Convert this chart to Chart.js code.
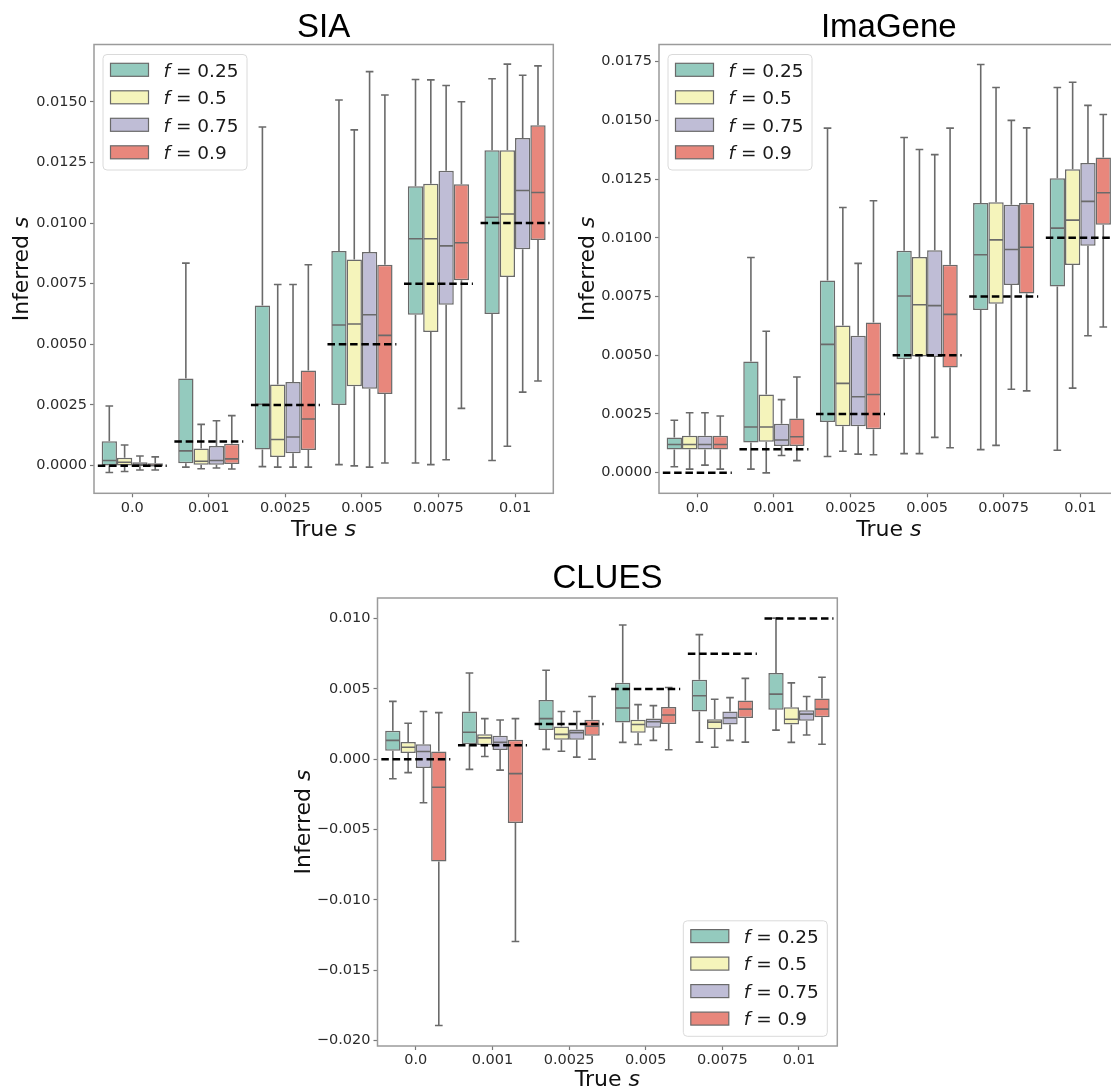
<!DOCTYPE html>
<html>
<head>
<meta charset="utf-8">
<title>Inferred s vs True s</title>
<script src="https://cdn.jsdelivr.net/npm/chart.js@4.4.1/dist/chart.umd.min.js"></script>
<style>
  html, body { margin: 0; padding: 0; background: #fff; width: 1111px; height: 1089px; overflow: hidden; }
  canvas { position: absolute; }
</style>
</head>
<body>
<canvas id="siaChart" width="580" height="540" style="left:0px;top:0px"></canvas>
<canvas id="imageneChart" width="580" height="540" style="left:560px;top:0px"></canvas>
<canvas id="cluesChart" width="580" height="544" style="left:280px;top:545px"></canvas>
<script>
const categories = ['0.0', '0.001', '0.0025', '0.005', '0.0075', '0.01'];
const trueS = [0, 0.001, 0.0025, 0.005, 0.0075, 0.01];
const fLevels = ['0.25', '0.5', '0.75', '0.9'];
const boxColors = ['#94cabe', '#f5f4bb', '#bfbdd6', '#e8877c'];

// each row: [low whisker, q1, median, q3, high whisker], one row per True s
const siaF025 = [[-0.00028, 0.00001, 0.00021, 0.00101, 0.00246], [-0.00006, 0.0001, 0.00061, 0.00359, 0.00835], [-0.00004, 0.00067, 0.00253, 0.0066, 0.01396], [0.00004, 0.0025, 0.0058, 0.00885, 0.01507], [0.00011, 0.00622, 0.00935, 0.01152, 0.01592], [0.00021, 0.00625, 0.01024, 0.013, 0.01595]];
const siaF05 = [[-0.00024, 0.00001, 0.00014, 0.00033, 0.00085], [-0.00013, 0.00004, 0.00018, 0.00071, 0.0017], [-0.00006, 0.00036, 0.00108, 0.00335, 0.00747], [-0.00001, 0.00327, 0.00584, 0.0085, 0.01384], [0.00004, 0.00551, 0.00935, 0.01162, 0.0159], [0.0008, 0.00778, 0.01037, 0.013, 0.01655]];
const siaF075 = [[-0.00018, -0.00003, 0.00004, 0.00014, 0.0004], [-0.0001, 0.00004, 0.00021, 0.00081, 0.00185], [-0.00006, 0.00051, 0.00118, 0.00345, 0.00747], [-0.00006, 0.00317, 0.00622, 0.00881, 0.01624], [0.00024, 0.00663, 0.00906, 0.01216, 0.01567], [0.00303, 0.00892, 0.01134, 0.01351, 0.01609]];
const siaF09 = [[-0.00018, -0.00004, 0.00001, 0.0001, 0.00036], [-0.00014, 0.00007, 0.00028, 0.0009, 0.00206], [-0.00006, 0.00064, 0.00192, 0.00392, 0.00828], [0.00011, 0.00295, 0.00537, 0.00828, 0.01528], [0.00236, 0.00764, 0.00919, 0.0116, 0.015], [0.00349, 0.0093, 0.01126, 0.01403, 0.01648]];

const imageneF025 = [[0.00025, 0.00098, 0.0012, 0.0015, 0.00223], [0.00015, 0.00128, 0.00194, 0.00473, 0.00916], [0.00069, 0.00216, 0.00546, 0.00818, 0.01467], [0.00081, 0.00483, 0.00752, 0.00945, 0.01427], [0.00098, 0.00693, 0.00928, 0.01148, 0.01738], [0.00095, 0.00793, 0.01041, 0.01254, 0.0164]];
const imageneF05 = [[0.00015, 0.00098, 0.0012, 0.00157, 0.00255], [-0.00001, 0.00131, 0.00194, 0.00333, 0.00602], [0.00091, 0.00198, 0.0038, 0.00627, 0.01129], [0.00081, 0.00495, 0.00715, 0.00918, 0.01376], [0.00116, 0.00719, 0.00991, 0.01151, 0.0164], [0.0036, 0.00884, 0.01075, 0.01292, 0.01662]];
const imageneF075 = [[0.00032, 0.00098, 0.0012, 0.00157, 0.00255], [0.00073, 0.00113, 0.00139, 0.00208, 0.00311], [0.00079, 0.00198, 0.00323, 0.00583, 0.00891], [0.0015, 0.00492, 0.00711, 0.00947, 0.01354], [0.00355, 0.00799, 0.0095, 0.01141, 0.015], [0.00583, 0.00966, 0.01155, 0.01318, 0.01564]];
const imageneF09 = [[0.00015, 0.00098, 0.0012, 0.00157, 0.00241], [0.00051, 0.00113, 0.00153, 0.0023, 0.00407], [0.00076, 0.00185, 0.00333, 0.00639, 0.01158], [0.00106, 0.00448, 0.00674, 0.00885, 0.01467], [0.00348, 0.00763, 0.0096, 0.01148, 0.01468], [0.0062, 0.01056, 0.01192, 0.01342, 0.01525]];

const cluesF025 = [[-0.00139, 0.0006, 0.00134, 0.00202, 0.00411], [-0.00072, 0.00107, 0.00192, 0.00339, 0.00613], [0.0007, 0.00207, 0.00289, 0.00421, 0.00632], [0.0012, 0.00261, 0.00364, 0.00543, 0.00954], [0.00122, 0.00339, 0.00451, 0.00565, 0.00886], [0.00207, 0.00351, 0.00463, 0.00613, 0.01003]];
const cluesF05 = [[-0.00095, 0.00045, 0.00085, 0.00122, 0.00256], [0.0002, 0.00102, 0.00152, 0.00177, 0.00289], [0.00057, 0.00139, 0.00177, 0.00232, 0.00339], [0.00105, 0.00189, 0.00247, 0.00281, 0.00388], [0.00085, 0.00214, 0.00264, 0.00284, 0.00426], [0.0012, 0.00247, 0.00284, 0.00369, 0.00543]];
const cluesF075 = [[-0.00309, -0.00062, 0.00055, 0.00107, 0.00339], [-0.00077, 0.00065, 0.0012, 0.00167, 0.00279], [0.00015, 0.00139, 0.00189, 0.00212, 0.00339], [0.00134, 0.00224, 0.00266, 0.00289, 0.00381], [0.00134, 0.00247, 0.00294, 0.00339, 0.00438], [0.00172, 0.00274, 0.00321, 0.00349, 0.00446]];
const cluesF09 = [[-0.01892, -0.00727, -0.00199, 0.00055, 0.00331], [-0.01295, -0.00453, -0.00102, 0.00139, 0.00289], [0.0, 0.00167, 0.00234, 0.00281, 0.00446], [0.00067, 0.00251, 0.00314, 0.00371, 0.0051], [0.00122, 0.00294, 0.00356, 0.00418, 0.00575], [0.00107, 0.00299, 0.00356, 0.00431, 0.00583]];

const siaYRange = [-0.00114, 0.01736];
const imageneYRange = [-0.00088, 0.01823];
const cluesYRange = [-0.02038, 0.01146];
const siaYTicks = [0, 0.0025, 0.005, 0.0075, 0.01, 0.0125, 0.015];
const imageneYTicks = [0, 0.0025, 0.005, 0.0075, 0.01, 0.0125, 0.015, 0.0175];
const cluesYTicks = [-0.02, -0.015, -0.01, -0.005, 0, 0.005, 0.01];

const EDGE = '#6a6a6a';
const FONT = '"DejaVu Sans"';

function line(ctx, x1, y1, x2, y2) {
    ctx.beginPath();
    ctx.moveTo(x1, y1);
    ctx.lineTo(x2, y2);
    ctx.stroke();
}

// draws "normal" + "italic" text starting at x (left aligned)
function mixedText(ctx, x, y, normal, italic, size) {
    ctx.font = size + 'px ' + FONT;
    ctx.fillText(normal, x, y);
    const w = ctx.measureText(normal).width;
    ctx.font = 'italic ' + size + 'px ' + FONT;
    ctx.fillText(italic, x + w, y);
}

function mixedWidth(ctx, normal, italic, size) {
    ctx.font = size + 'px ' + FONT;
    let w = ctx.measureText(normal).width;
    ctx.font = 'italic ' + size + 'px ' + FONT;
    return w + ctx.measureText(italic).width;
}

function drawLegend(ctx, left, top) {
    const w = 144, h = 115.5;
    ctx.save();
    ctx.fillStyle = 'rgba(255,255,255,0.85)';
    ctx.strokeStyle = '#dadada';
    ctx.lineWidth = 1;
    ctx.beginPath();
    ctx.roundRect(left, top, w, h, 4);
    ctx.fill();
    ctx.stroke();
    fLevels.forEach((lab, k) => {
        const cy = top + 15.3 + 27.5 * k;
        ctx.fillStyle = boxColors[k];
        ctx.fillRect(left + 7.5, cy - 6.5, 38, 13);
        ctx.strokeStyle = EDGE;
        ctx.lineWidth = 1.2;
        ctx.strokeRect(left + 7.5, cy - 6.5, 38, 13);
        ctx.fillStyle = '#1a1a1a';
        ctx.textBaseline = 'alphabetic';
        ctx.textAlign = 'left';
        const tx = left + 60.5, ty = cy + 6.7;
        ctx.font = 'italic 18.5px ' + FONT;
        ctx.fillText('f', tx, ty);
        const fw = ctx.measureText('f').width;
        ctx.font = '18.5px ' + FONT;
        ctx.fillText(' = ' + lab, tx + fw, ty);
    });
    ctx.restore();
}

const boxPlot = {
    id: 'boxPlot',
    afterDatasetsDraw(chart, args, opts) {
        const ctx = chart.ctx;
        const x = chart.scales.x, y = chart.scales.y;
        const area = chart.chartArea;
        ctx.save();
        ctx.beginPath();
        ctx.rect(area.left, area.top, area.right - area.left, area.bottom - area.top);
        ctx.clip();

        // whiskers, caps and medians
        ctx.strokeStyle = EDGE;
        ctx.lineWidth = 1.6;
        chart.data.datasets.forEach((ds, di) => {
            const meta = chart.getDatasetMeta(di);
            meta.data.forEach((bar, i) => {
                const s = ds.stats[i];
                const cx = bar.x, half = bar.width / 2, cap = bar.width / 4;
                const pLo = y.getPixelForValue(s[0]);
                const pQ1 = y.getPixelForValue(s[1]);
                const pMed = y.getPixelForValue(s[2]);
                const pQ3 = y.getPixelForValue(s[3]);
                const pHi = y.getPixelForValue(s[4]);
                line(ctx, cx, pQ3, cx, pHi);
                line(ctx, cx, pQ1, cx, pLo);
                line(ctx, cx - cap, pHi, cx + cap, pHi);
                line(ctx, cx - cap, pLo, cx + cap, pLo);
                line(ctx, cx - half + 0.75, pMed, cx + half - 0.75, pMed);
            });
        });

        // true s reference lines
        const step = x.getPixelForValue(1) - x.getPixelForValue(0);
        ctx.strokeStyle = '#000';
        ctx.lineWidth = 2.5;
        ctx.setLineDash([7.5, 3.8]);
        trueS.forEach((v, i) => {
            const cx = x.getPixelForValue(i);
            const py = y.getPixelForValue(v);
            line(ctx, cx - 0.45 * step, py, cx + 0.45 * step, py);
        });
        ctx.restore();

        // frame
        ctx.save();
        ctx.strokeStyle = '#9b9b9b';
        ctx.lineWidth = 1.5;
        ctx.strokeRect(area.left, area.top, area.right - area.left, area.bottom - area.top);

        // legend
        if (opts.legend === 'tl') {
            drawLegend(ctx, area.left + 9, area.top + 10);
        } else {
            drawLegend(ctx, area.right - 10 - 144, area.bottom - 9.7 - 115.5);
        }

        // panel title
        const mid = (area.left + area.right) / 2;
        ctx.fillStyle = '#000';
        ctx.textAlign = 'center';
        ctx.textBaseline = 'alphabetic';
        ctx.font = '33px "Liberation Sans", Arial, sans-serif';
        ctx.fillText(opts.name, mid, opts.titleY);

        // axis titles
        ctx.textAlign = 'left';
        ctx.fillStyle = '#111';
        const xw = mixedWidth(ctx, 'True ', 's', 22);
        mixedText(ctx, mid - xw / 2, opts.xTitleY, 'True ', 's', 22);

        const yw = mixedWidth(ctx, 'Inferred ', 's', 22);
        ctx.translate(opts.yTitleX, (area.top + area.bottom) / 2);
        ctx.rotate(-Math.PI / 2);
        mixedText(ctx, -yw / 2, 0, 'Inferred ', 's', 22);
        ctx.restore();
    }
};

function fmtTick(decimals) {
    return function(v) {
        if (Math.abs(v) < 1e-12) return (0).toFixed(decimals);
        return (v < 0 ? '\u2212' : '') + Math.abs(v).toFixed(decimals);
    };
}

function makeChart(id, series, yRange, yTicks, decimals, geo) {
    const ctx = document.getElementById(id).getContext('2d');
    return new Chart(ctx, {
        type: 'bar',
        data: {
            labels: categories,
            datasets: series.map((rows, k) => ({
                label: 'f = ' + fLevels[k],
                data: rows.map(r => [r[1], r[3]]),
                stats: rows,
                backgroundColor: boxColors[k],
                borderColor: EDGE,
                borderWidth: 1.5,
                borderSkipped: false,
                categoryPercentage: 0.8,
                barPercentage: 1.0
            }))
        },
        options: {
            responsive: false,
            animation: false,
            events: [],
            layout: { padding: { left: 0, top: geo.top, right: geo.right, bottom: 0 } },
            plugins: {
                legend: { display: false },
                title: { display: false },
                tooltip: { enabled: false },
                boxPlot: { name: geo.name, legend: geo.legend, titleY: geo.titleY, xTitleY: geo.xTitleY, yTitleX: geo.yTitleX }
            },
            scales: {
                x: {
                    offset: true,
                    grid: { display: true, drawOnChartArea: false, drawTicks: true, tickLength: 4, offset: false, tickColor: '#777', tickWidth: 1.2 },
                    border: { display: false },
                    ticks: { color: '#2b2b2b', font: { family: 'DejaVu Sans', size: 14.5 }, padding: 2, maxRotation: 0, autoSkip: false },
                    afterFit: s => { s.height = geo.xAxisHeight; }
                },
                y: {
                    min: yRange[0],
                    max: yRange[1],
                    grid: { display: true, drawOnChartArea: false, drawTicks: true, tickLength: 4, tickColor: '#777', tickWidth: 1.2 },
                    border: { display: false },
                    afterBuildTicks: s => { s.ticks = yTicks.map(v => ({ value: v })); },
                    ticks: { color: '#2b2b2b', font: { family: 'DejaVu Sans', size: 14.5 }, padding: 3, callback: fmtTick(decimals) },
                    afterFit: s => { s.width = geo.yAxisWidth; }
                }
            }
        },
        plugins: [boxPlot]
    });
}

document.addEventListener('DOMContentLoaded', function() {
    makeChart('siaChart', [siaF025, siaF05, siaF075, siaF09], siaYRange, siaYTicks, 4, {
        name: 'SIA', legend: 'tl', top: 44.5, right: 26.7, yAxisWidth: 94, xAxisHeight: 46.7,
        titleY: 37.4, xTitleY: 535.8, yTitleX: 28
    });
    makeChart('imageneChart', [imageneF025, imageneF05, imageneF075, imageneF09], imageneYRange, imageneYTicks, 4, {
        name: 'ImaGene', legend: 'tl', top: 44.5, right: 21.4, yAxisWidth: 99, xAxisHeight: 46.7,
        titleY: 37.4, xTitleY: 535.8, yTitleX: 33.6
    });
    makeChart('cluesChart', [cluesF025, cluesF05, cluesF075, cluesF09], cluesYRange, cluesYTicks, 3, {
        name: 'CLUES', legend: 'br', top: 53, right: 22.7, yAxisWidth: 97.5, xAxisHeight: 43,
        titleY: 42.5, xTitleY: 541, yTitleX: 29.7
    });
});
</script>
</body>
</html>
